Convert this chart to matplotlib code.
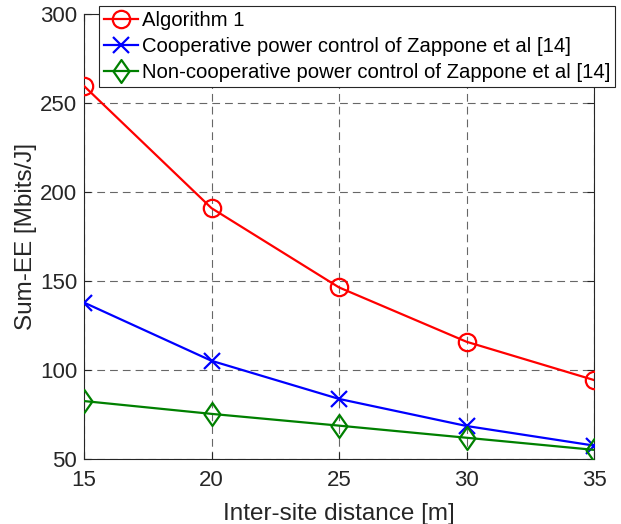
import matplotlib
matplotlib.use("Agg")
import matplotlib.pyplot as plt
from matplotlib.path import Path

plt.rcParams['font.family'] = ['Liberation Sans', 'DejaVu Sans']

distance = [15, 20, 25, 30, 35]
algorithm1 = [259.6, 191.0, 146.5, 116.0, 94.5]
cooperative = [138.0, 105.3, 83.9, 68.7, 57.7]
noncooperative = [82.7, 75.5, 68.9, 62.1, 55.3]

labels = ["Algorithm 1",
          "Cooperative power control of Zappone et al [14]",
          "Non-cooperative power control of Zappone et al [14]"]
xticks = [15, 20, 25, 30, 35]
yticks = [50, 100, 150, 200, 250, 300]

diamond = Path([(0, 1), (0.7, 0), (0, -1), (-0.7, 0), (0, 1)],
               [Path.MOVETO, Path.LINETO, Path.LINETO, Path.LINETO, Path.CLOSEPOLY])

fig = plt.figure(figsize=(6.21, 5.24), dpi=100)
ax = fig.add_axes([84/621, 1-459.3/524, (594-84)/621, (459.3-14)/524])

ax.plot(distance, algorithm1, color='red', lw=1.6, marker='o', ms=12.5,
        mfc='none', mew=1.6, label=labels[0], zorder=5)
ax.plot(distance, cooperative, color='blue', lw=1.6, marker='x', ms=12,
        mew=1.6, label=labels[1], zorder=5)
ax.plot(distance, noncooperative, color='green', lw=1.6, marker=diamond, ms=16.5,
        mfc='none', mew=1.6, label=labels[2], zorder=5)

ax.set_xlim(15, 35)
ax.set_ylim(50, 300)
ax.set_xticks(xticks)
ax.set_yticks(yticks)
ax.tick_params(direction='in', labelsize=16, colors='#262626', length=5,
               top=True, right=True, width=0.8)
ax.tick_params(axis='x', pad=8)
ax.tick_params(axis='y', pad=5)
ax.grid(True, color='#262626', linestyle=(0, (7, 4.5)), linewidth=0.8, alpha=0.7)
for s in ax.spines.values():
    s.set_color('#262626')
    s.set_linewidth(0.8)

ax.set_xlabel("Inter-site distance [m]", fontsize=17.5, color='#262626', labelpad=8)
ax.set_ylabel("Sum-EE [Mbits/J]", fontsize=17.5, color='#262626', labelpad=2)

leg = ax.legend(loc='upper left', bbox_to_anchor=(99/621, 1-6/524),
                bbox_transform=fig.transFigure, fontsize=14.6, fancybox=False,
                framealpha=1, edgecolor='#262626', borderpad=0.25,
                labelspacing=0.35, handlelength=1.65, handletextpad=0.2,
                borderaxespad=0)
leg.get_frame().set_linewidth(0.8)
leg.set_zorder(10)

fig.savefig("out.png", dpi=100)
